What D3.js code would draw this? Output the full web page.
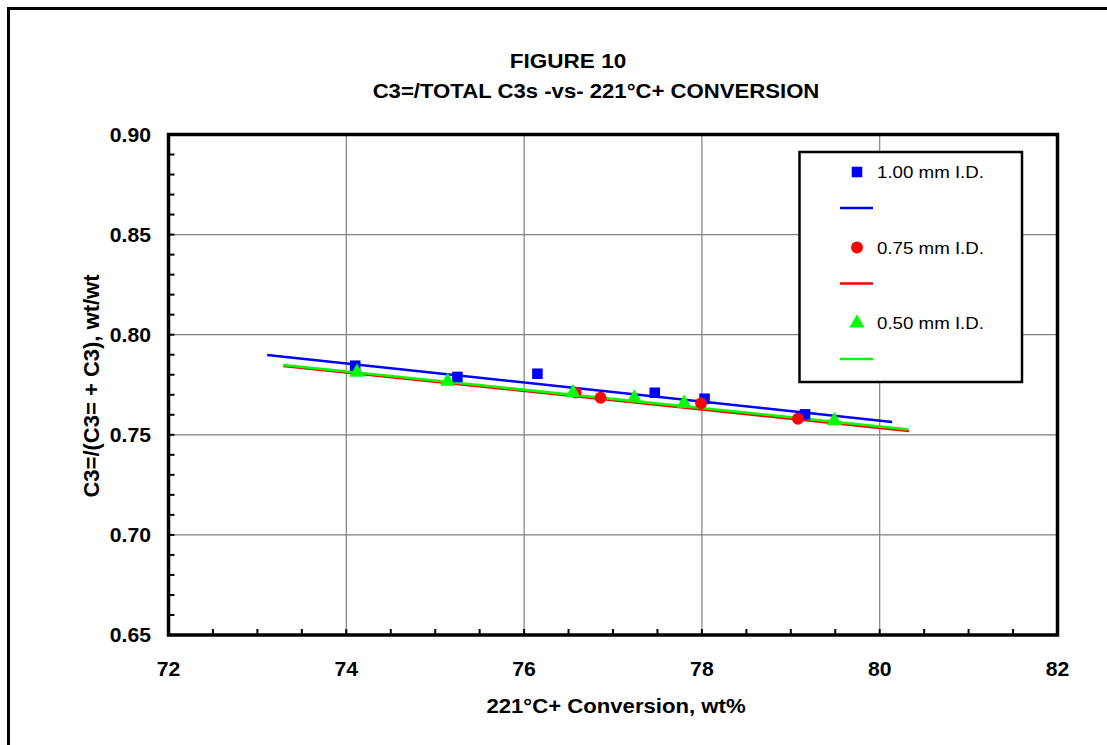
<!DOCTYPE html>
<html lang="en-US">
<head>
  <script src="https://cdn.jsdelivr.net/npm/d3@7"></script>
  <style>
    body { margin: 0; background: #fff; }
    text { font-family: "Liberation Sans", Arial, sans-serif; }
  </style>
</head>
<body>

<svg width="1107" height="745"></svg>

<script>
// tick values
var xTicks = [72, 74, 76, 78, 80, 82];
var yTicks = [0.65, 0.70, 0.75, 0.80, 0.85, 0.90];

// 1.00 mm I.D.
var blueX = [74.10, 75.25, 76.15, 77.47, 78.03, 79.16];
var blueY = [0.7845, 0.7789, 0.7805, 0.7710, 0.7680, 0.7602];
// 0.75 mm I.D.
var redX = [76.58, 76.86, 77.99, 79.08];
var redY = [0.7711, 0.7685, 0.7657, 0.7580];
// 0.50 mm I.D.
var greenX = [74.12, 75.14, 76.55, 77.24, 77.80, 79.49];
var greenY = [0.7812, 0.7767, 0.7710, 0.7684, 0.7657, 0.7570];

// trend line end points
var blueFitX = [73.11, 80.14], blueFitY = [0.7899, 0.7564];
var redFitX = [73.29, 80.33], redFitY = [0.7844, 0.7519];
var greenFitX = [73.29, 80.32], greenFitY = [0.7849, 0.7527];

var legendLabels = ["1.00 mm I.D.", "0.75 mm I.D.", "0.50 mm I.D."];

var svg = d3.select("svg");

var x = d3.scaleLinear().domain([72, 82]).range([168.5, 1057.5]);
var y = d3.scaleLinear().domain([0.65, 0.90]).range([635, 134.5]);

// text that is a little wider than normal, like the source
function stext(g, px, py, str, size, sx, anchor, weight) {
  return g.append("text")
    .attr("transform", "translate(" + px + "," + py + ") scale(" + sx + ",1)")
    .attr("text-anchor", anchor)
    .attr("font-size", size)
    .attr("font-weight", weight)
    .attr("fill", "#000")
    .text(str);
}

// outer frame (left and top only visible)
svg.append("rect")
  .attr("x", 8.5).attr("y", 8.5)
  .attr("width", 1200).attr("height", 800)
  .attr("fill", "none").attr("stroke", "#000").attr("stroke-width", 3);

// titles
stext(svg, 568, 68, "FIGURE 10", 20.5, 1.1, "middle", "bold");
stext(svg, 596, 98, "C3=/TOTAL C3s -vs- 221°C+ CONVERSION", 20.5, 1.08, "middle", "bold");

// gridlines
var grid = svg.append("g");
grid.selectAll(".gx").data(xTicks.slice(1, -1)).enter().append("line")
  .attr("x1", d => x(d)).attr("x2", d => x(d))
  .attr("y1", y(0.90)).attr("y2", y(0.65))
  .attr("stroke", "#808080").attr("stroke-width", 1.2);
grid.selectAll(".gy").data(yTicks.slice(1, -1)).enter().append("line")
  .attr("x1", x(72)).attr("x2", x(82))
  .attr("y1", d => y(d)).attr("y2", d => y(d))
  .attr("stroke", "#808080").attr("stroke-width", 1.2);

// minor ticks, pointing inward
var xMinor = d3.range(72.5, 82, 0.5);
svg.append("g").selectAll("line").data(xMinor).enter().append("line")
  .attr("x1", d => x(d)).attr("x2", d => x(d))
  .attr("y1", y(0.65)).attr("y2", y(0.65) - 6)
  .attr("stroke", "#000").attr("stroke-width", 2);
var yMinor = d3.range(0.66, 0.8999, 0.01);
svg.append("g").selectAll("line").data(yMinor).enter().append("line")
  .attr("x1", x(72)).attr("x2", x(72) + 6)
  .attr("y1", d => y(d)).attr("y2", d => y(d))
  .attr("stroke", "#000").attr("stroke-width", 2);

// plot frame
svg.append("rect")
  .attr("x", x(72)).attr("y", y(0.90))
  .attr("width", x(82) - x(72)).attr("height", y(0.65) - y(0.90))
  .attr("fill", "none").attr("stroke", "#000").attr("stroke-width", 3.5);

// tick labels
xTicks.forEach(function(t) {
  stext(svg, x(t), 676, d3.format(".0f")(t), 20, 1.06, "middle", "bold");
});
yTicks.forEach(function(t) {
  stext(svg, 151, y(t) + 7, d3.format(".2f")(t), 20, 1.06, "end", "bold");
});

// axis titles
stext(svg, 616, 713, "221°C+ Conversion, wt%", 20.5, 1.08, "middle", "bold");
svg.append("text")
  .attr("transform", "translate(99,386) rotate(-90)")
  .attr("text-anchor", "middle")
  .attr("font-size", 22).attr("font-weight", "bold")
  .text("C3=/(C3= + C3), wt/wt");

// trend lines
var line = d3.line().x(d => x(d[0])).y(d => y(d[1]));
var fits = [
  {xs: blueFitX, ys: blueFitY, c: "#0000ff"},
  {xs: redFitX, ys: redFitY, c: "#ff0000"},
  {xs: greenFitX, ys: greenFitY, c: "#00ff00"}
];
fits.forEach(function(f) {
  svg.append("path")
    .datum(d3.zip(f.xs, f.ys))
    .attr("d", line)
    .attr("fill", "none").attr("stroke", f.c).attr("stroke-width", 2.5);
});

// markers
var sq = d3.symbol().type(d3.symbolSquare).size(112);
var ci = d3.symbol().type(d3.symbolCircle).size(110);
var tr = d3.symbol().type(d3.symbolTriangle).size(100);

svg.append("g").selectAll("path").data(d3.zip(blueX, blueY)).enter().append("path")
  .attr("d", sq).attr("fill", "#0000ff")
  .attr("transform", d => "translate(" + x(d[0]) + "," + y(d[1]) + ")");
svg.append("g").selectAll("path").data(d3.zip(redX, redY)).enter().append("path")
  .attr("d", ci).attr("fill", "#ff0000")
  .attr("transform", d => "translate(" + x(d[0]) + "," + y(d[1]) + ")");
svg.append("g").selectAll("path").data(d3.zip(greenX, greenY)).enter().append("path")
  .attr("d", tr).attr("fill", "#00ff00")
  .attr("transform", d => "translate(" + x(d[0]) + "," + y(d[1]) + ")");

// legend
var lg = svg.append("g");
lg.append("rect")
  .attr("x", 799.5).attr("y", 152)
  .attr("width", 222.5).attr("height", 230)
  .attr("fill", "#fff").attr("stroke", "#000").attr("stroke-width", 2.5);
var legColors = ["#0000ff", "#ff0000", "#00ff00"];
var legSyms = [sq, ci, tr];
legendLabels.forEach(function(lab, i) {
  var yy = 172 + i * 75.5;
  lg.append("path").attr("d", legSyms[i]).attr("fill", legColors[i])
    .attr("transform", "translate(857," + yy + ")");
  stext(lg, 877, yy + 6, lab, 17, 1.1, "start", "normal");
  lg.append("line")
    .attr("x1", 840).attr("x2", 873)
    .attr("y1", yy + 36).attr("y2", yy + 36)
    .attr("stroke", legColors[i]).attr("stroke-width", 2.5);
});
</script>
</body>
</html>
